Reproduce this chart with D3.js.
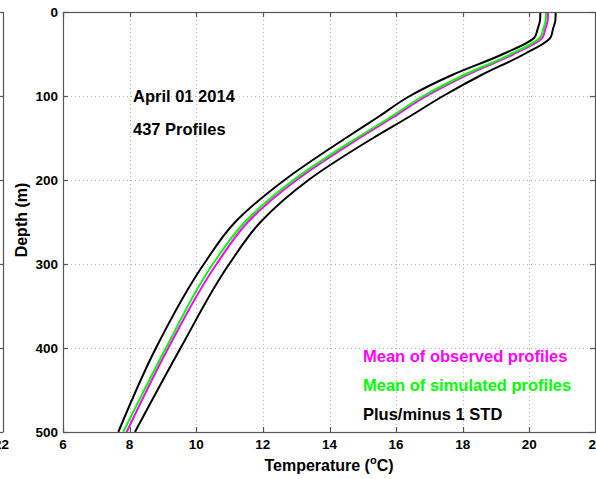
<!DOCTYPE html>
<html>
<head>
<meta charset="utf-8">
<script src="https://cdn.jsdelivr.net/npm/d3@7"></script>
<style>
  body { margin: 0; background: #fff; }
  svg { display: block; }
  text { font-family: "Liberation Sans", Arial, Helvetica, sans-serif; font-weight: bold; fill: #000; }
</style>
</head>
<body>
<svg id="chart" width="596" height="479"></svg>
<script>
// Standard depth levels (m) of the averaged profiles
const depths = [0, 10, 20, 30, 50, 75, 100, 125, 150, 200, 250, 300, 400, 500];
// Mean of observed profiles (°C)
const observedMean = [20.56, 20.55, 20.48, 20.40, 19.53, 18.12, 16.91, 15.92, 14.90, 13.01, 11.55, 10.61, 9.16, 7.91];
// Mean of simulated profiles (°C)
const simulatedMean = [20.50, 20.49, 20.42, 20.33, 19.45, 18.04, 16.82, 15.84, 14.82, 12.92, 11.46, 10.50, 9.09, 7.81];
// One standard deviation of the observed profiles (°C)
const observedStd = [0.23, 0.23, 0.23, 0.24, 0.32, 0.44, 0.50, 0.46, 0.41, 0.36, 0.38, 0.38, 0.37, 0.25];

const tempTicks = [6, 8, 10, 12, 14, 16, 18, 20, 22];
const depthTicks = [0, 100, 200, 300, 400, 500];
const annotation = ["April 01 2014", "437 Profiles"];
const legendItems = [
  { label: "Mean of observed profiles", color: "#ff00ff" },
  { label: "Mean of simulated profiles", color: "#00ff00" },
  { label: "Plus/minus 1 STD", color: "#000000" }
];

const svg = d3.select("#chart");
const plotLeft = 63, plotTop = 12, plotBottom = 432, plotRight = 596;

const x = d3.scaleLinear().domain([6, 22]).range([plotLeft, plotRight]);
const y = d3.scaleLinear().domain([0, 500]).range([plotTop, plotBottom]);

const frameColor = "#555";
const gridColor = "#b4b4b4";
const tickFont = 13.5;
const labelFont = 16;
const noteFont = 16.5;

// Edge of the neighbouring panel on the left
const prev = svg.append("g").attr("stroke", frameColor).attr("stroke-width", 1.2);
prev.append("line").attr("x1", 3.5).attr("x2", 3.5).attr("y1", plotTop).attr("y2", plotBottom);
prev.append("line").attr("x1", -5).attr("x2", 3.5).attr("y1", plotTop + 0.5).attr("y2", plotTop + 0.5);
prev.append("line").attr("x1", -5).attr("x2", 3.5).attr("y1", plotBottom + 0.5).attr("y2", plotBottom + 0.5);
prev.selectAll("line.tk").data(depthTicks.slice(1, -1)).join("line").attr("class", "tk")
  .attr("x1", -2).attr("x2", 3.5).attr("y1", d => Math.round(y(d)) + 0.5).attr("y2", d => Math.round(y(d)) + 0.5);
svg.append("text").attr("x", 1.5).attr("y", 448.5).attr("text-anchor", "middle")
  .attr("font-size", tickFont).text(tempTicks[tempTicks.length - 1]);

// Grid
const grid = svg.append("g").attr("stroke", gridColor).attr("stroke-width", 1)
  .attr("stroke-dasharray", "1,3");
grid.selectAll("line.v").data(tempTicks.slice(1, -1)).join("line").attr("class", "v")
  .attr("x1", d => Math.round(x(d)) + 0.5).attr("x2", d => Math.round(x(d)) + 0.5)
  .attr("y1", plotTop).attr("y2", plotBottom);
grid.selectAll("line.h").data(depthTicks.slice(1, -1)).join("line").attr("class", "h")
  .attr("x1", plotLeft).attr("x2", plotRight)
  .attr("y1", d => Math.round(y(d)) + 0.5).attr("y2", d => Math.round(y(d)) + 0.5);

// Profiles
const line = d3.line().x(d => x(d[0])).y(d => y(d[1])).curve(d3.curveMonotoneY);
const lower = depths.map((d, i) => [observedMean[i] - observedStd[i], d]);
const upper = depths.map((d, i) => [observedMean[i] + observedStd[i], d]);
const obs = depths.map((d, i) => [observedMean[i], d]);
const sim = depths.map((d, i) => [simulatedMean[i], d]);

const curves = svg.append("g").attr("fill", "none").attr("stroke-linejoin", "round");
curves.append("path").datum(lower).attr("d", line).attr("stroke", "#000").attr("stroke-width", 2);
curves.append("path").datum(upper).attr("d", line).attr("stroke", "#000").attr("stroke-width", 2);
curves.append("path").datum(obs).attr("d", line).attr("stroke", "#ff00ff").attr("stroke-width", 2);
curves.append("path").datum(sim).attr("d", line).attr("stroke", "#00ff00").attr("stroke-width", 2);

// Axes frame with inward ticks on all sides
const tickLen = 5;
const axes = svg.append("g");
axes.append("rect").attr("x", plotLeft + 0.5).attr("y", plotTop + 0.5)
  .attr("width", plotRight - plotLeft - 1).attr("height", plotBottom - plotTop)
  .attr("fill", "none").attr("stroke", frameColor).attr("stroke-width", 1.2);

tempTicks.forEach(t => {
  const px = Math.round(x(t)) + 0.5;
  axes.append("line").attr("x1", px).attr("x2", px).attr("y1", plotBottom).attr("y2", plotBottom - tickLen)
    .attr("stroke", frameColor).attr("stroke-width", 1.2);
  axes.append("line").attr("x1", px).attr("x2", px).attr("y1", plotTop).attr("y2", plotTop + tickLen)
    .attr("stroke", frameColor).attr("stroke-width", 1.2);
  axes.append("text").attr("x", x(t)).attr("y", 448.5).attr("text-anchor", "middle")
    .attr("font-size", tickFont).text(t);
});
depthTicks.forEach(d => {
  const py = Math.round(y(d)) + 0.5;
  axes.append("line").attr("x1", plotLeft).attr("x2", plotLeft + tickLen).attr("y1", py).attr("y2", py)
    .attr("stroke", frameColor).attr("stroke-width", 1.2);
  axes.append("line").attr("x1", plotRight - 1).attr("x2", plotRight - 1 - tickLen).attr("y1", py).attr("y2", py)
    .attr("stroke", frameColor).attr("stroke-width", 1.2);
  axes.append("text").attr("x", 58).attr("y", y(d) + 5.3).attr("text-anchor", "end")
    .attr("font-size", tickFont).text(d);
});

// Axis titles
svg.append("text").attr("transform", "translate(27,220) rotate(-90)")
  .attr("text-anchor", "middle").attr("font-size", labelFont).text("Depth (m)");
const xt = svg.append("text").attr("x", 329).attr("y", 471).attr("text-anchor", "middle")
  .attr("font-size", labelFont);
xt.append("tspan").text("Temperature (");
xt.append("tspan").attr("font-size", 11).attr("dy", -7).text("o");
xt.append("tspan").attr("dy", 7).text("C)");

// Annotations
annotation.forEach((t, i) => {
  svg.append("text").attr("x", 133).attr("y", 102 + i * 33).attr("font-size", noteFont).text(t);
});

// Legend
legendItems.forEach((item, i) => {
  svg.append("text").attr("x", 363).attr("y", 362 + i * 29).attr("font-size", noteFont)
    .style("fill", item.color).text(item.label);
});
</script>
</body>
</html>
